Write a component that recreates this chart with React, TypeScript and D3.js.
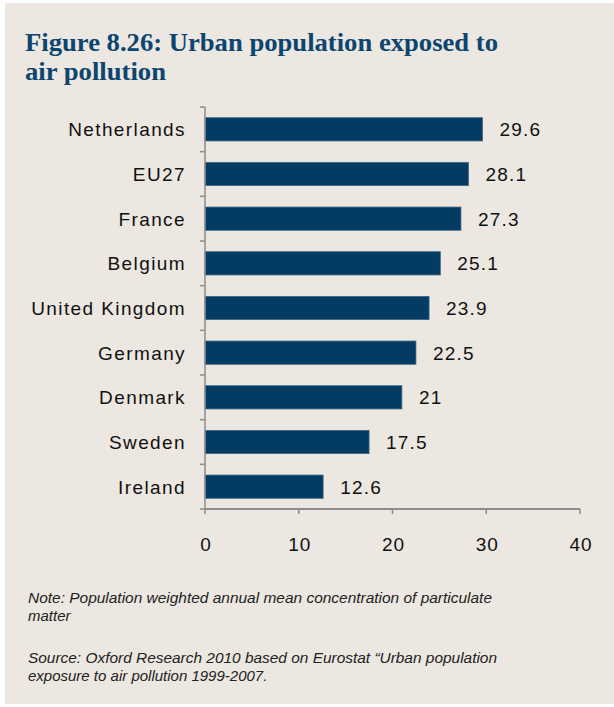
import React from "react";
import * as d3 from "d3";

const countries = [
  "Netherlands",
  "EU27",
  "France",
  "Belgium",
  "United Kingdom",
  "Germany",
  "Denmark",
  "Sweden",
  "Ireland",
];
const values = [29.6, 28.1, 27.3, 25.1, 23.9, 22.5, 21, 17.5, 12.6];
const xTicks = [0, 10, 20, 30, 40];
const titleLines = ["Figure 8.26:  Urban population exposed to", "air pollution"];
const noteLines = [
  "Note: Population weighted annual mean  concentration of particulate",
  "matter",
];
const sourceLines = [
  "Source: Oxford Research 2010 based on Eurostat \u201cUrban population",
  "exposure to air pollution  1999-2007.",
];

const W = 614;
const H = 707;
const left = 205;
const right = 580;
const top = 107;
const bottom = 509;

export default function App() {
  const x = d3.scaleLinear().domain([0, 40]).range([left, right]);
  const y = d3.scaleBand<string>().domain(countries).range([top, bottom]).paddingInner(0.48).paddingOuter(0.24);
  const band = (bottom - top) / countries.length;
  const bandEdges = d3.range(countries.length + 1).map((i) => top + i * band);
  const sans = "'Liberation Sans', Arial, sans-serif";
  const axisColor = "#8c8c8c";

  return (
    <svg
      width={W}
      height={H}
      style={{ position: "absolute", left: 0, top: 0, display: "block" }}
    >
      <rect x={0} y={0} width={W} height={H} fill="#ffffff" />
      <rect x={5} y={3} width={W - 5} height={701} fill="#ece7e0" />

      {/* title */}
      <g fill="#0b4570" fontFamily="'Liberation Serif', 'DejaVu Serif', serif" fontWeight="bold" fontSize={25}>
        <text x={25} y={51} textLength={473} lengthAdjust="spacingAndGlyphs">
          {titleLines[0]}
        </text>
        <text x={25} y={79.5} textLength={141} lengthAdjust="spacingAndGlyphs">
          {titleLines[1]}
        </text>
      </g>

      {/* bars */}
      {countries.map((c, i) => (
        <rect
          key={c}
          x={x(0)}
          y={y(c)!}
          width={x(values[i]) - x(0)}
          height={y.bandwidth()}
          fill="#033b63"
          stroke="#3e6587"
          strokeWidth={0.8}
        />
      ))}

      {/* value labels */}
      {countries.map((c, i) => (
        <text
          key={c}
          x={x(values[i]) + 17}
          y={y(c)! + y.bandwidth() / 2}
          dy="0.36em"
          fontFamily={sans}
          fontSize={19}
          letterSpacing={1.2}
          fill="#111"
        >
          {values[i]}
        </text>
      ))}

      {/* category labels */}
      {countries.map((c) => (
        <text
          key={c}
          x={186}
          y={y(c)! + y.bandwidth() / 2}
          dy="0.36em"
          textAnchor="end"
          fontFamily={sans}
          fontSize={19}
          letterSpacing={1.4}
          fill="#111"
        >
          {c}
        </text>
      ))}

      {/* y axis */}
      <line x1={left} x2={left} y1={top} y2={bottom} stroke={axisColor} strokeWidth={1.5} />
      {bandEdges.map((v, i) => (
        <line key={i} x1={left - 5} x2={left} y1={v} y2={v} stroke={axisColor} strokeWidth={1.5} />
      ))}

      {/* x axis */}
      <line x1={left} x2={right} y1={bottom} y2={bottom} stroke={axisColor} strokeWidth={2} />
      {xTicks.map((t) => (
        <g key={t}>
          <line x1={x(t)} x2={x(t)} y1={bottom} y2={bottom + 5} stroke={axisColor} strokeWidth={1.5} />
          <text
            x={x(t) + 1}
            y={551}
            textAnchor="middle"
            fontFamily={sans}
            fontSize={19}
            letterSpacing={1}
            fill="#111"
          >
            {t}
          </text>
        </g>
      ))}

      {/* notes */}
      <g fontFamily={sans} fontStyle="italic" fontSize={15} fill="#222">
        <text x={28} y={603} textLength={464} lengthAdjust="spacingAndGlyphs">
          {noteLines[0]}
        </text>
        <text x={28} y={621}>{noteLines[1]}</text>
        <text x={28} y={663} textLength={469} lengthAdjust="spacingAndGlyphs">
          {sourceLines[0]}
        </text>
        <text x={28} y={681}>{sourceLines[1]}</text>
      </g>
    </svg>
  );
}
